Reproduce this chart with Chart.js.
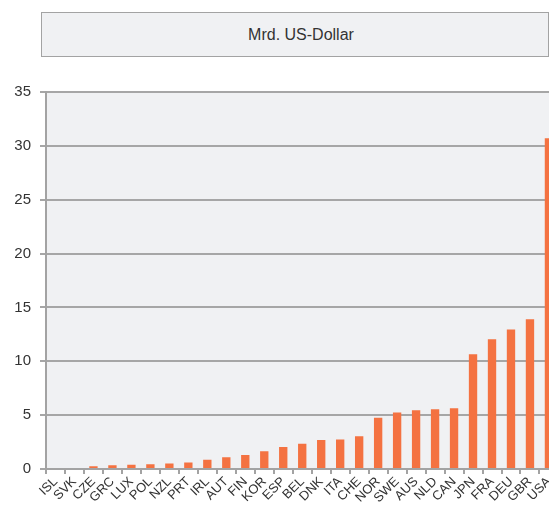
<!DOCTYPE html>
<html>
<head>
<meta charset="utf-8">
<script src="https://cdn.jsdelivr.net/npm/chart.js@4/dist/chart.umd.min.js"></script>
<style>
  html, body { margin: 0; padding: 0; background: #fff; overflow: hidden; }
  #wrap { position: relative; width: 560px; height: 506px; }
  #titlebox {
    position: absolute; left: 41px; top: 12px; width: 494px; height: 43px;
    padding-left: 12px;
    background: #f0f1f3; border: 1.5px solid #a3a3a3;
    font: 16px "Liberation Sans", Arial, sans-serif; color: #333;
    display: flex; align-items: center; justify-content: center;
  }
  canvas { position: absolute; left: 0; top: 0; }
</style>
</head>
<body>
<div id="wrap">
  <div id="titlebox">Mrd. US-Dollar</div>
  <canvas id="myChart" width="560" height="506"></canvas>
</div>
<script>
  const countries = [
    'ISL', 'SVK', 'CZE', 'GRC', 'LUX', 'POL', 'NZL', 'PRT', 'IRL',
    'AUT', 'FIN', 'KOR', 'ESP', 'BEL', 'DNK', 'ITA', 'CHE', 'NOR',
    'SWE', 'AUS', 'NLD', 'CAN', 'JPN', 'FRA', 'DEU', 'GBR', 'USA'
  ];
  const values = [
    0, 0, 0.25, 0.35, 0.4, 0.45, 0.5, 0.6, 0.85,
    1.1, 1.3, 1.65, 2.05, 2.35, 2.7, 2.75, 3.05, 4.75,
    5.25, 5.45, 5.55, 5.65, 10.65, 12.05, 12.95, 13.9, 30.7
  ];
  const yTicks = [0, 5, 10, 15, 20, 25, 30, 35];

  // light grey plot background
  const plotBg = {
    id: 'plotBg',
    beforeDraw(chart) {
      const a = chart.chartArea, ctx = chart.ctx;
      ctx.save();
      ctx.fillStyle = '#f0f1f3';
      ctx.fillRect(a.left, a.top, a.right - a.left, a.bottom - a.top);
      ctx.restore();
    }
  };

  const config = {
    type: 'bar',
    data: {
      labels: countries,
      datasets: [{
        data: values,
        backgroundColor: '#f47241',
        barPercentage: 0.44,
        categoryPercentage: 1
      }]
    },
    options: {
      responsive: false,
      animation: false,
      layout: { padding: { top: 92, right: 1, left: 0, bottom: 0 } },
      plugins: { legend: { display: false }, tooltip: { enabled: false } },
      scales: {
        x: {
          grid: { drawOnChartArea: false, drawTicks: true, tickLength: 5, color: '#a3a3a3', lineWidth: 2 },
          border: { color: '#a3a3a3', width: 2 },
          ticks: {
            autoSkip: false, minRotation: 45, maxRotation: 45,
            color: '#333', padding: 0,
            font: { family: '"Liberation Sans", Arial, sans-serif', size: 13 }
          },
          afterFit(s) { s.height = 37; }
        },
        y: {
          min: 0, max: 35,
          afterBuildTicks(s) { s.ticks = yTicks.map(v => ({ value: v })); },
          grid: { color: '#a6a6a6', lineWidth: 2, tickLength: 6 },
          border: { color: '#a3a3a3', width: 2 },
          ticks: {
            color: '#333', padding: 9,
            font: { family: '"Liberation Sans", Arial, sans-serif', size: 15 }
          },
          afterFit(s) { s.width = 46; }
        }
      }
    },
    plugins: [plotBg]
  };

  const myChart = new Chart(document.getElementById('myChart'), config);
</script>
</body>
</html>
